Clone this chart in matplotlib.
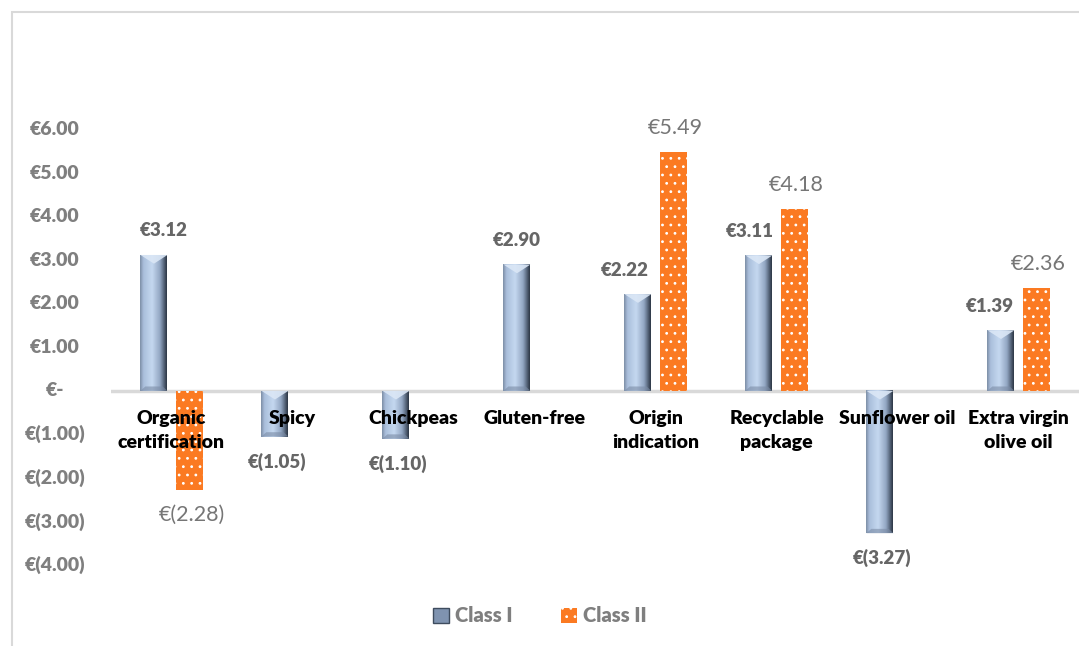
import numpy as np
import matplotlib.pyplot as plt
from matplotlib.colors import LinearSegmentedColormap
from matplotlib.patches import Polygon, Patch, Rectangle
from matplotlib.transforms import blended_transform_factory

# Willingness to pay per attribute, two consumer classes
categories = ['Organic\ncertification', 'Spicy', 'Chickpeas', 'Gluten-free',
              'Origin\nindication', 'Recyclable\npackage', 'Sunflower oil',
              'Extra virgin\nolive oil']
class_1 = [3.12, -1.05, -1.10, 2.90, 2.22, 3.11, -3.27, 1.39]
class_2 = [-2.28, np.nan, np.nan, np.nan, 5.49, 4.18, np.nan, 2.36]
series_names = ['Class I', 'Class II']
y_ticks = [6, 5, 4, 3, 2, 1, 0, -1, -2, -3, -4]

# small nudges of the data labels (pixels), as placed in the original
c1_dx = [10, 2, 2, 0, -13, -9, 2, -11]
c2_dx = [3, 0, 0, 0, 2, 2, 0, 2]

plt.rcParams['font.family'] = ['Lato', 'DejaVu Sans']

W, H = 1079, 646
fig = plt.figure(figsize=(W / 100, H / 100), dpi=100)
ax = fig.add_axes([111 / W, 1 - 565 / H, (1079 - 111) / W, (565 - 86) / H])
ax.set_xlim(-0.5, 7.5)
ax.set_ylim(-4, 7)
ax.axis('off')

# outer chart border
fig.patches.append(Rectangle((12 / W, -0.1), 1.2, 1 - 12 / H + 0.1, transform=fig.transFigure,
                             fill=False, edgecolor='#d9d9d9', linewidth=1.5))


def euro(v):
    if v == 0:
        return '€-'
    return f'€{v:.2f}' if v > 0 else f'€({abs(v):.2f})'


bw = 0.223
off = 0.145
x = np.arange(len(categories))

bevel_cmap = LinearSegmentedColormap.from_list(
    'bevel', [(0, '#7d8ea6'), (0.12, '#a9bedb'), (0.45, '#c5d8f0'),
              (0.75, '#92a6c2'), (0.88, '#5d6d83'), (1.0, '#2c3644')])
grad = np.linspace(0, 1, 64).reshape(1, -1)

# Class I: bevelled bars
for xi, v in zip(x - off, class_1):
    x0, x1 = xi - bw / 2, xi + bw / 2
    lo, hi = min(0, v), max(0, v)
    ax.imshow(grad, cmap=bevel_cmap, extent=[x0, x1, lo, hi], aspect='auto',
              interpolation='bicubic', zorder=2)
    top = hi if v > 0 else 0
    d = 0.2
    ax.add_patch(Polygon([[x0, top], [x1, top], [xi, top - d]], closed=True,
                         facecolor='#dbe7f6', edgecolor='none', alpha=0.9, zorder=3))
    bot = lo if v < 0 else 0
    ax.add_patch(Polygon([[x0, bot], [x1, bot], [x1 - 0.04, bot + 0.1], [x0 + 0.04, bot + 0.1]],
                         closed=True, facecolor='#7b8ca6', edgecolor='none', alpha=0.6, zorder=3))

# Class II: orange with white dots
plt.rcParams['hatch.linewidth'] = 0.8
ax.bar(x + off, class_2, width=bw, color='#fb7a22', edgecolor='white', linewidth=0,
       hatch='..', zorder=2)

# zero line
ax.axhline(0, color='#d9d9d9', linewidth=2.5, zorder=1)

# y tick labels
ytrans = blended_transform_factory(fig.transFigure, ax.transData)
for t in y_ticks:
    ax.text(55 / W, t, euro(t), transform=ytrans, ha='center', va='center',
            fontsize=14, fontweight='heavy', color='#7f7f7f')

# category labels just below zero line
for xi, c in zip(x, categories):
    ax.annotate(c, (xi, 0), xytext=(0, -19), textcoords='offset pixels', ha='center', va='top',
                fontsize=14, fontweight='heavy', color='black', linespacing=1.5, zorder=5)

# data labels
for xi, v, dx in zip(x - off, class_1, c1_dx):
    dy = 24 if v > 0 else -25
    ax.annotate(euro(v), (xi, v), xytext=(dx, dy), textcoords='offset pixels', ha='center',
                va='center', fontsize=13.5, fontweight='heavy', color='#666666', zorder=5)
for xi, v, dx in zip(x + off, class_2, c2_dx):
    if np.isnan(v):
        continue
    dy = 24 if v > 0 else -25
    ax.annotate(euro(v), (xi, v), xytext=(dx, dy), textcoords='offset pixels', ha='center',
                va='center', fontsize=15.5, color='#767676', zorder=5)

handles = [Patch(facecolor='#7f93b0', edgecolor='#3e4c5e'),
           Patch(facecolor='#fb7a22', edgecolor='white', hatch='..', linewidth=0)]
fig.legend(handles, series_names, loc='center', bbox_to_anchor=(0.5, 1 - 616 / H), ncol=2,
           frameon=False, prop={'size': 14.5, 'weight': 'heavy'}, labelcolor='#7f7f7f',
           handlelength=0.8, handleheight=0.8, handletextpad=0.3, columnspacing=2.4)

fig.savefig('out.png', dpi=100)
